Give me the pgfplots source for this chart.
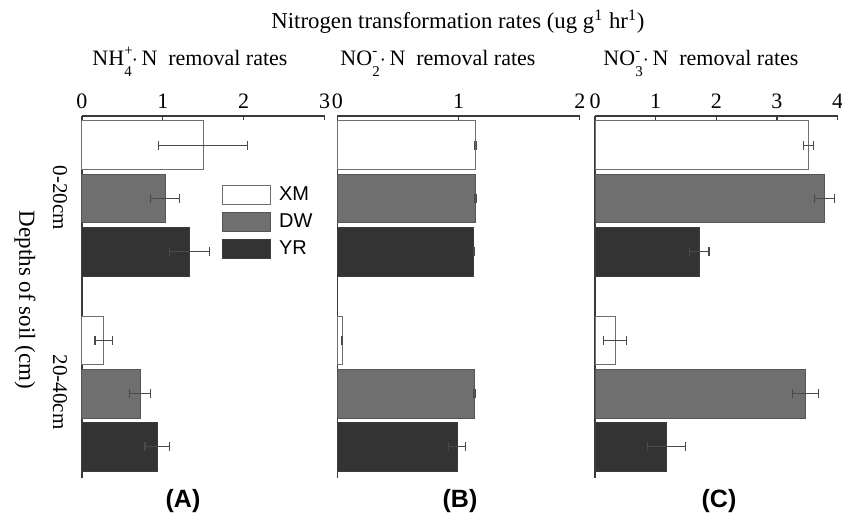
\documentclass[border=0pt]{standalone}
\usepackage{fontspec}
\setmainfont{Liberation Serif}
\setsansfont{Liberation Sans}
\usepackage{pgfplots}
\usepackage{pgfplotstable}
\pgfplotsset{compat=1.18}
\definecolor{xmedge}{HTML}{6E6E6E}
\definecolor{dwfill}{HTML}{6F6F6F}
\definecolor{dwedge}{HTML}{555555}
\definecolor{yrfill}{HTML}{333333}
\definecolor{yredge}{HTML}{3C3C3C}
\definecolor{axisgray}{HTML}{3A3A3A}
\definecolor{errgray}{HTML}{4A4A4A}

% y: 0 = 0-20cm, 1 = 20-40cm
\pgfplotstableread{
y xm xme dw dwe yr yre
0 1.50 0.55 1.03 0.18 1.33 0.25
1 0.27 0.11 0.72 0.13 0.93 0.15
}\dataA
\pgfplotstableread{
y xm xme dw dwe yr yre
0 1.14 0.010 1.14 0.010 1.125 0.005
1 0.04 0.005 1.13 0.010 0.99 0.070
}\dataB
\pgfplotstableread{
y xm xme dw dwe yr yre
0 3.52 0.08 3.78 0.165 1.72 0.16
1 0.33 0.185 3.47 0.21 1.18 0.31
}\dataC

% #1 subscript, #2 superscript, #3 raise of superscript
\newcommand{\ion}[3]{\rlap{\raisebox{#3}{\fontsize{7.5}{8}\selectfont #2}}\raisebox{-5.8pt}{\fontsize{7.5}{8}\selectfont #1}}

\pgfplotsset{
  panel/.style={
    xbar, scale only axis, width=121.3pt, height=181pt,
    y dir=reverse, ymin=-0.423, ymax=1.433,
    axis x line*=top, axis y line*=left,
    xmin=0, ytick=\empty,
    bar width=0.251,
    tick align=inside, major tick length=2.2pt,
    axis line style={axisgray, line width=0.7pt},
    every tick/.style={axisgray, line width=0.6pt},
    /pgf/number format/assume math mode=true,
    xticklabel style={font=\fontsize{11}{13}\selectfont, text=black},
    clip=false,
    legend image code/.code={\draw[##1, line width=0.5pt] (0pt,-4.75pt) rectangle (24pt,4.75pt);},
  },
  xmbar/.style={fill=white, draw=xmedge, line width=0.5pt, bar shift=-0.272,
    error bars/.cd, x dir=both, x explicit,
    error bar style={errgray, line width=0.6pt},
    error mark options={errgray, line width=0.6pt, mark size=2.2pt, rotate=90}},
  dwbar/.style={fill=dwfill, draw=dwedge, line width=0.5pt, bar shift=0,
    error bars/.cd, x dir=both, x explicit,
    error bar style={errgray, line width=0.6pt},
    error mark options={errgray, line width=0.6pt, mark size=2.2pt, rotate=90}},
  yrbar/.style={fill=yrfill, draw=yredge, line width=0.5pt, bar shift=0.272,
    error bars/.cd, x dir=both, x explicit,
    error bar style={errgray, line width=0.6pt},
    error mark options={errgray, line width=0.6pt, mark size=2.2pt, rotate=90}},
}

\begin{document}
\begin{tikzpicture}
\useasboundingbox (0pt,0pt) rectangle (421pt,-263pt);

% Panel A
\begin{axis}[panel, at={(41pt,-58pt)}, anchor=north west,
  xmax=3, xtick={0,1,2,3},
  legend style={draw=none, fill=none, at={(0.576,0.812)}, anchor=north west,
    inner sep=0pt, nodes={inner sep=1pt}, row sep=3.1pt,
    /tikz/every odd column/.append style={column sep=3pt},
    font=\sffamily\fontsize{10}{12}\selectfont},
  legend cell align=left]
\addplot[xmbar] table[x=xm, y=y, x error=xme] {\dataA};
\addplot[dwbar] table[x=dw, y=y, x error=dwe] {\dataA};
\addplot[yrbar] table[x=yr, y=y, x error=yre] {\dataA};
\legend{XM,DW,YR}
\end{axis}

% Panel B
\begin{axis}[panel, at={(168.65pt,-58pt)}, anchor=north west,
  xmax=2, xtick={0,1,2}]
\addplot[xmbar] table[x=xm, y=y, x error=xme] {\dataB};
\addplot[dwbar] table[x=dw, y=y, x error=dwe] {\dataB};
\addplot[yrbar] table[x=yr, y=y, x error=yre] {\dataB};
\end{axis}

% Panel C
\begin{axis}[panel, at={(297.5pt,-58pt)}, anchor=north west,
  xmax=4, xtick={0,1,2,3,4}]
\addplot[xmbar] table[x=xm, y=y, x error=xme] {\dataC};
\addplot[dwbar] table[x=dw, y=y, x error=dwe] {\dataC};
\addplot[yrbar] table[x=yr, y=y, x error=yre] {\dataC};
\end{axis}

\begin{scope}[every node/.style={inner sep=0pt}]
\node[anchor=base, font=\fontsize{11.4}{13}\selectfont] at (229pt,-14pt) {Nitrogen transformation rates (ug g\textsuperscript{1} hr\textsuperscript{1})};
\node[anchor=base, font=\fontsize{11}{13}\selectfont] at (95pt,-32.5pt) {NH\ion{4}{+}{5pt}$\cdot$\,N\ \ removal rates};
\node[anchor=base, font=\fontsize{11}{13}\selectfont] at (219pt,-32.5pt) {NO\ion{2}{-}{5pt}$\cdot$\,N\ \ removal rates};
\node[anchor=base, font=\fontsize{11}{13}\selectfont] at (350.5pt,-32.5pt) {NO\ion{3}{-}{5pt}$\cdot$\,N\ \ removal rates};
\node[rotate=-90, font=\fontsize{11.5}{13}\selectfont] at (12.5pt,-150pt) {Depths of soil (cm)};
\node[rotate=-90, font=\fontsize{10.5}{12}\selectfont] at (30pt,-99pt) {0-20cm};
\node[rotate=-90, font=\fontsize{10.5}{12}\selectfont] at (30pt,-196pt) {20-40cm};
\end{scope}
\begin{scope}[every node/.style={font=\sffamily\bfseries\fontsize{12.5}{14}\selectfont, inner sep=0pt}]
\node at (91.5pt,-250.5pt) {(A)};
\node at (230pt,-250.5pt) {(B)};
\node at (359.5pt,-250.5pt) {(C)};
\end{scope}
\end{tikzpicture}
\end{document}
